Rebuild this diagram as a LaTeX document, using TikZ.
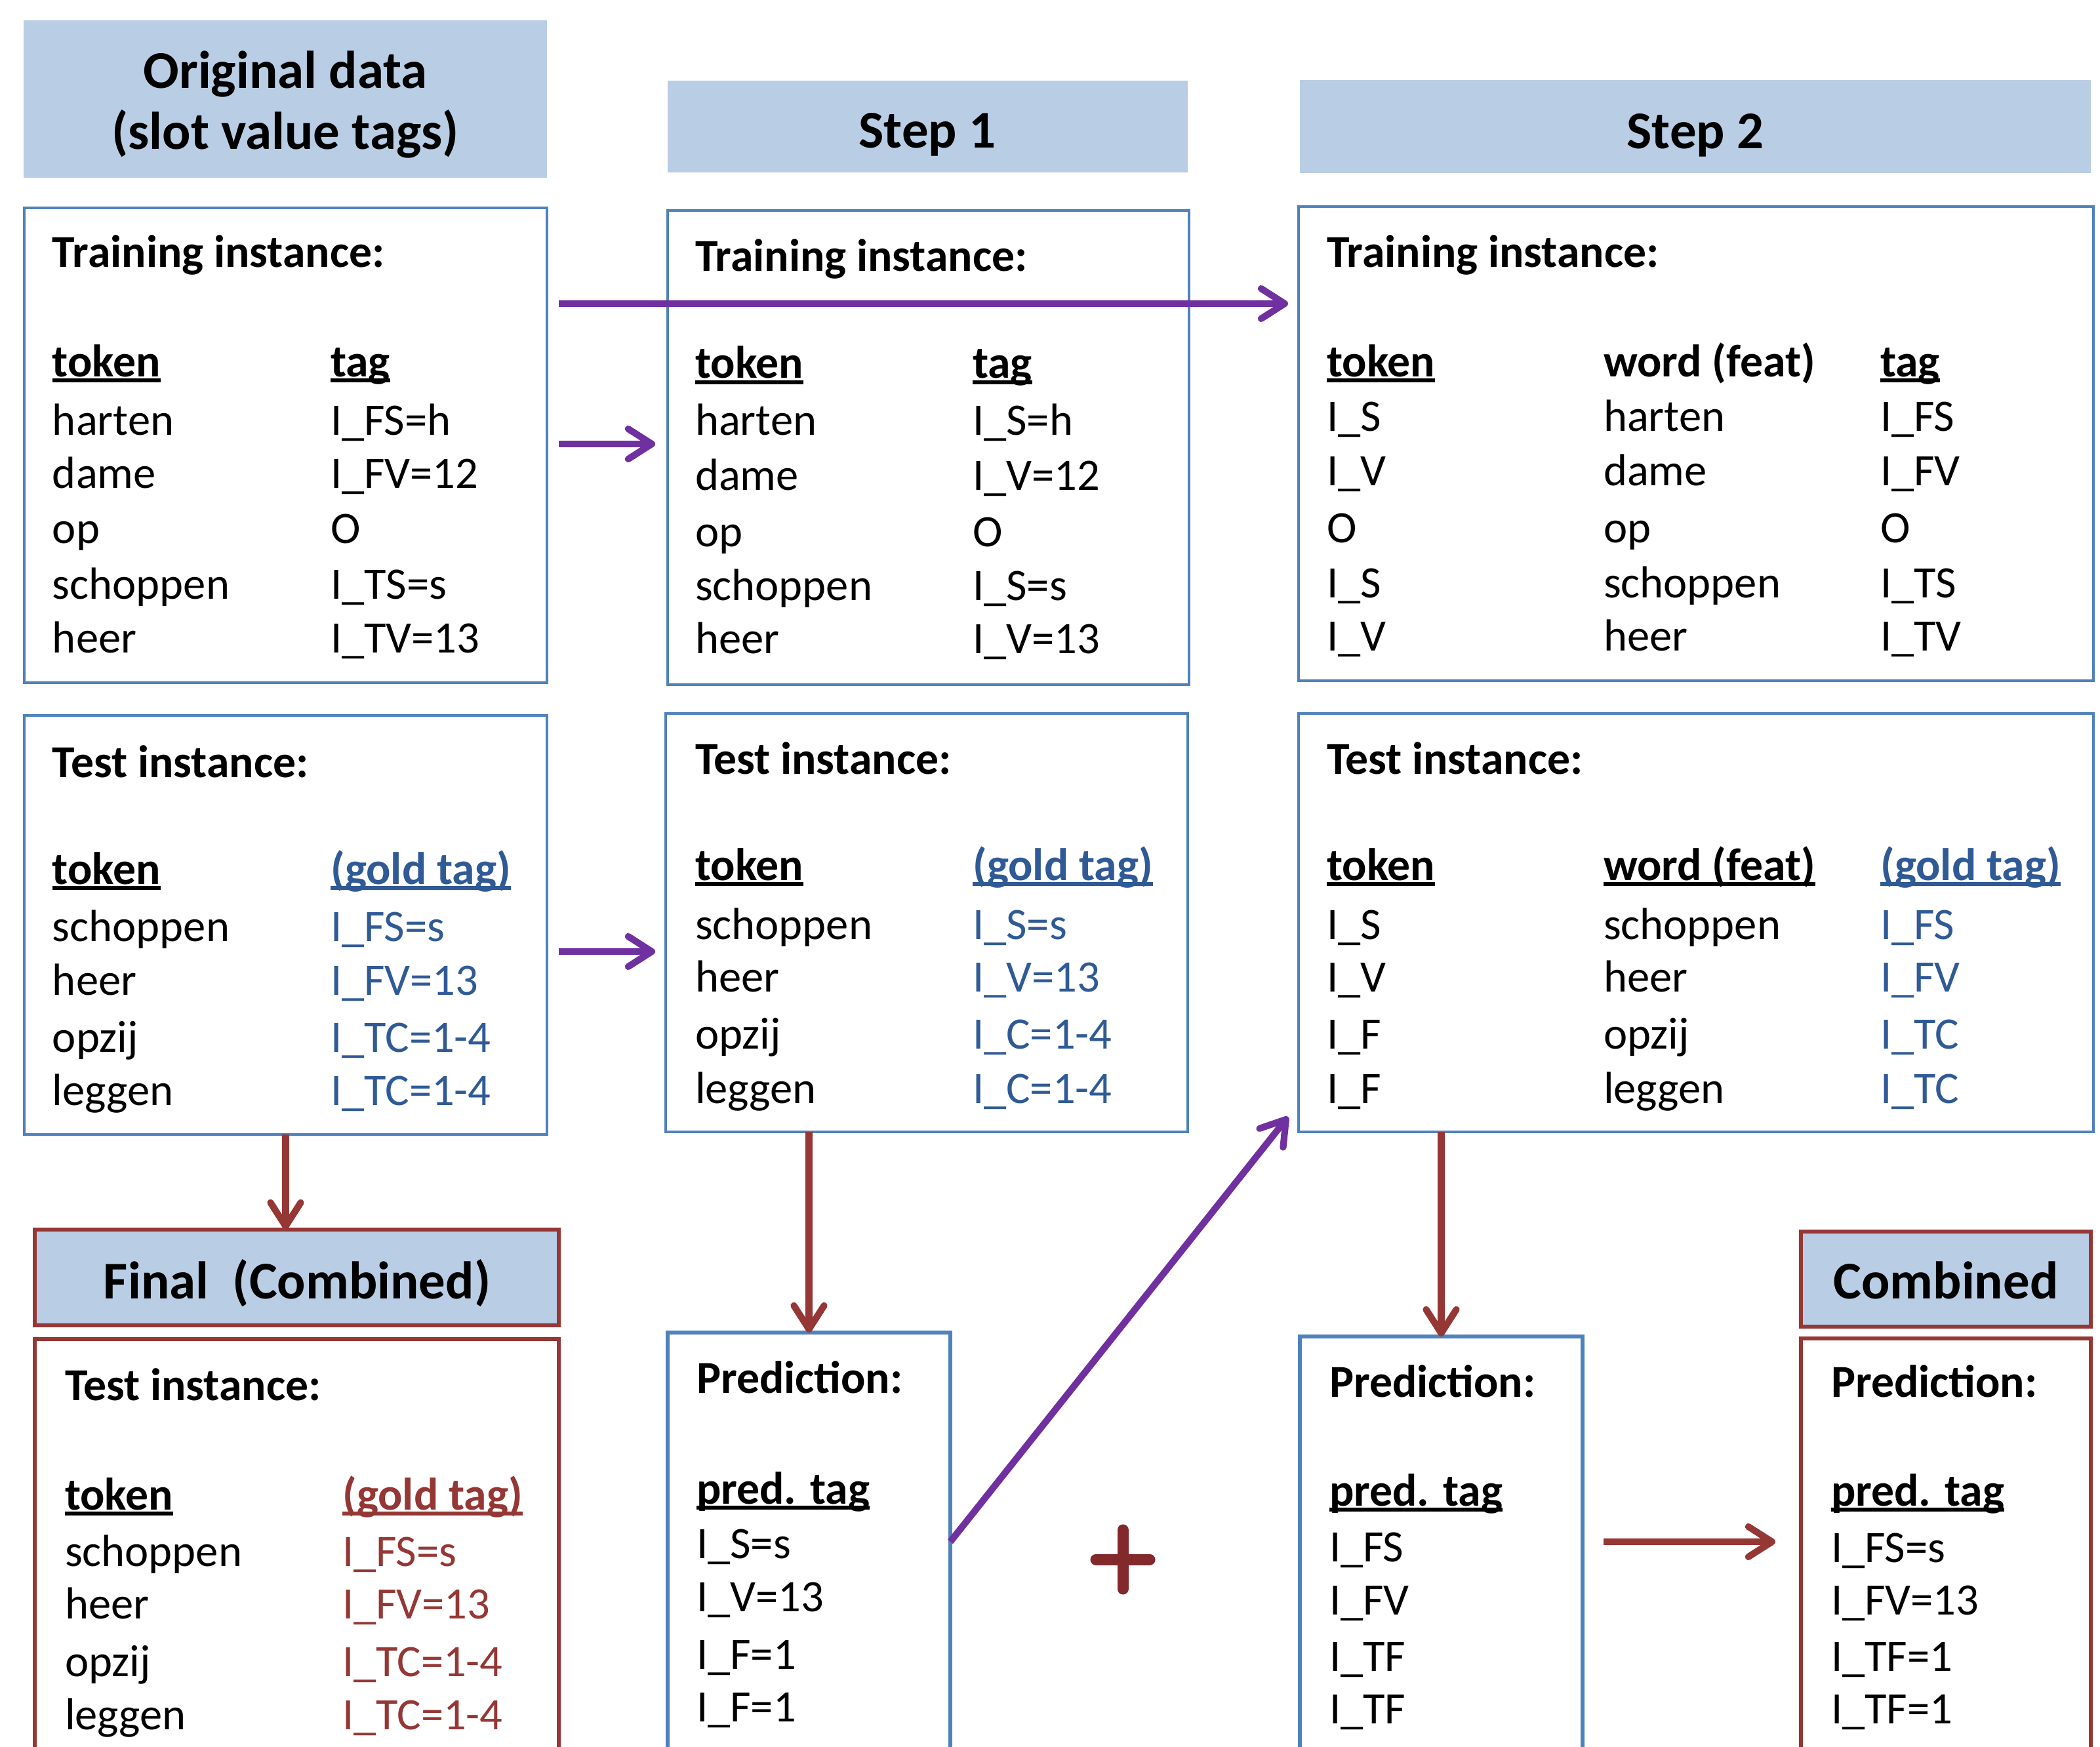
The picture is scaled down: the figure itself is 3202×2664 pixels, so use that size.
\documentclass[tikz,border=0pt]{standalone}
\usepackage{fontspec}
\setmainfont{Carlito}
\usetikzlibrary{arrows.meta,fit,calc}
\definecolor{hdrblue}{HTML}{B9CDE5}
\definecolor{boxblue}{HTML}{4F81BD}
\definecolor{purp}{HTML}{7030A0}
\definecolor{dred}{HTML}{953735}
\definecolor{goldblue}{HTML}{2F5A96}
\definecolor{plusred}{HTML}{83282B}
\newcommand\myul[1]{\setbox0=\hbox{#1}\rlap{\vrule height -0.04em depth 0.13em width \wd0}\box0}
% two-column row: prefix, y, x1, x2, text1, colour2, text2
\newcommand\rowtwo[7]{%
  \node[txt] (#1a) at (#3,#2) {#5};
  \node[txt,text=#6] (#1b) at (#4,#2) {#7};}
% three-column row (Step 2): prefix, y, text1, text2, colour3, text3
\newcommand\rowthree[6]{%
  \node[txt] (#1a) at (2023,#2) {#3};
  \node[txt] (#1b) at (2445,#2) {#4};
  \node[txt,text=#5] (#1c) at (2867,#2) {#6};}
\tikzset{
  txt/.style={anchor=base west, inner sep=0pt, outer sep=0pt, font=\fontsize{19.5pt}{23pt}\selectfont},
  btxt/.style={txt, font=\fontsize{19.8pt}{23pt}\selectfont\bfseries},
  htxt/.style={anchor=base, inner sep=0pt, outer sep=0pt, font=\fontsize{23pt}{28pt}\selectfont\bfseries},
  hdr/.style={fill=hdrblue, draw=none, inner sep=0pt, outer sep=0pt},
  thinbox/.style={draw=boxblue, line width=1.1pt, inner sep=0pt, outer sep=0pt},
  predbox/.style={draw=boxblue, line width=1.8pt, inner sep=0pt, outer sep=0pt},
  redhdr/.style={fill=hdrblue, draw=dred, line width=1.9pt, inner sep=0pt, outer sep=0pt},
  redbox/.style={draw=dred, line width=1.9pt, inner sep=0pt, outer sep=0pt},
  parrow/.style={draw=purp, line width=2.9pt, -{Straight Barb[length=0.36cm,width=0.46cm,round]}},
  rarrow/.style={draw=dred, line width=2.9pt, -{Straight Barb[length=0.36cm,width=0.46cm,round]}},
  plusline/.style={draw=plusred, line width=0.17cm, line cap=round},
}
\begin{document}
\begin{tikzpicture}[x=0.01cm,y=-0.01cm]
\useasboundingbox (0,0) rectangle (3202,2664);
\clip (0,0) rectangle (3202,2664);
\fill[white] (0,0) rectangle (3202,2664);

% ---------- boxes ----------
\node[hdr, fit={(36,31) (834,271)}] (hOrig) {};
\node[thinbox, fit={(37,317) (834,1041)}] (trainO) {};
\node[thinbox, fit={(37,1091) (834,1730)}] (testO) {};
\node[redhdr, fit={(53,1875) (852,2021)}] (hFinal) {};
\node[redbox, fit={(53,2042) (852,2740)}] (finalBox) {};

\node[hdr, fit={(1018,123) (1811,263)}] (hStep1) {};
\node[thinbox, fit={(1018,321) (1813,1044)}] (trainA) {};
\node[thinbox, fit={(1015,1088) (1811,1726)}] (testA) {};
\node[predbox, fit={(1018,2032) (1449,2740)}] (predA) {};

\node[hdr, fit={(1982,122) (3188,264)}] (hStep2) {};
\node[thinbox, fit={(1980,315) (3192,1038)}] (trainB) {};
\node[thinbox, fit={(1980,1088) (3192,1726)}] (testB) {};
\node[predbox, fit={(1982,2038) (2413,2740)}] (predB) {};
\node[redhdr, fit={(2746,1878) (3188,2023)}] (hComb) {};
\node[redbox, fit={(2746,2041) (3188,2740)}] (combBox) {};

% ---------- headers ----------
\node[htxt] (tOrig1) at (435,135) {Original data};
\node[htxt] (tOrig2) at (435,228) {(slot value tags)};
\node[htxt] (tStep1) at (1414,226) {Step 1};
\node[htxt] (tStep2) at (2585,227) {Step 2};
\node[htxt] (tFinal) at (453,1980) {Final\ \ (Combined)};
\node[htxt] (tComb) at (2967,1980) {Combined};

% ---------- original: training ----------
\node[btxt] (oTi) at (80,408) {Training instance:};
\node[btxt] (oTk) at (80,574) {\myul{token}};
\node[btxt] (oTg) at (504,574) {\myul{tag}};
\rowtwo{oa}{663}{80}{504}{harten}{black}{I\_FS=h}
\rowtwo{ob}{744}{80}{504}{dame}{black}{I\_FV=12}
\rowtwo{oc}{828}{80}{504}{op}{black}{O}
\rowtwo{od}{913}{80}{504}{schoppen}{black}{I\_TS=s}
\rowtwo{oe}{995}{80}{504}{heer}{black}{I\_TV=13}

% ---------- original: test ----------
\node[btxt] (oTe) at (80,1185) {Test instance:};
\node[btxt] (oTk2) at (80,1348) {\myul{token}};
\node[btxt,text=goldblue] (oGt) at (504,1348) {\myul{(gold tag)}};
\rowtwo{of}{1435}{80}{504}{schoppen}{goldblue}{I\_FS=s}
\rowtwo{og}{1517}{80}{504}{heer}{goldblue}{I\_FV=13}
\rowtwo{oh}{1604}{80}{504}{opzij}{goldblue}{I\_TC=1-4}
\rowtwo{oi}{1685}{80}{504}{leggen}{goldblue}{I\_TC=1-4}

% ---------- final ----------
\node[btxt] (fTe) at (99,2135) {Test instance:};
\node[btxt] (fTk) at (99,2302) {\myul{token}};
\node[btxt,text=dred] (fGt) at (522,2302) {\myul{(gold tag)}};
\rowtwo{fa}{2388}{99}{522}{schoppen}{dred}{I\_FS=s}
\rowtwo{fb}{2468}{99}{522}{heer}{dred}{I\_FV=13}
\rowtwo{fc}{2556}{99}{522}{opzij}{dred}{I\_TC=1-4}
\rowtwo{fd}{2637}{99}{522}{leggen}{dred}{I\_TC=1-4}

% ---------- step 1: training ----------
\node[btxt] (aTi) at (1060,414) {Training instance:};
\node[btxt] (aTk) at (1060,577) {\myul{token}};
\node[btxt] (aTg) at (1483,577) {\myul{tag}};
\rowtwo{aa}{663}{1060}{1483}{harten}{black}{I\_S=h}
\rowtwo{ab}{747}{1060}{1483}{dame}{black}{I\_V=12}
\rowtwo{ac}{833}{1060}{1483}{op}{black}{O}
\rowtwo{ad}{915}{1060}{1483}{schoppen}{black}{I\_S=s}
\rowtwo{ae}{996}{1060}{1483}{heer}{black}{I\_V=13}

% ---------- step 1: test ----------
\node[btxt] (aTe) at (1060,1180) {Test instance:};
\node[btxt] (aTk2) at (1060,1342) {\myul{token}};
\node[btxt,text=goldblue] (aGt) at (1483,1342) {\myul{(gold tag)}};
\rowtwo{af}{1432}{1060}{1483}{schoppen}{goldblue}{I\_S=s}
\rowtwo{ag}{1512}{1060}{1483}{heer}{goldblue}{I\_V=13}
\rowtwo{ah}{1599}{1060}{1483}{opzij}{goldblue}{I\_C=1-4}
\rowtwo{ai}{1682}{1060}{1483}{leggen}{goldblue}{I\_C=1-4}

% ---------- step 1: prediction ----------
\node[btxt] (pAh) at (1062,2124) {Prediction:};
\node[btxt] (pAt) at (1062,2293) {\myul{pred. tag}};
\node[txt] (pA1) at (1062,2376) {I\_S=s};
\node[txt] (pA2) at (1062,2457) {I\_V=13};
\node[txt] (pA3) at (1062,2545) {I\_F=1};
\node[txt] (pA4) at (1062,2625) {I\_F=1};

% ---------- step 2: training ----------
\node[btxt] (bTi) at (2023,408) {Training instance:};
\node[btxt] (bTk) at (2023,574) {\myul{token}};
\node[btxt] (bWf) at (2445,574) {word (feat)};
\node[btxt] (bTg) at (2867,574) {\myul{tag}};
\rowthree{ba}{658}{I\_S}{harten}{black}{I\_FS}
\rowthree{bb}{740}{I\_V}{dame}{black}{I\_FV}
\rowthree{bc}{827}{O}{op}{black}{O}
\rowthree{bd}{911}{I\_S}{schoppen}{black}{I\_TS}
\rowthree{be}{992}{I\_V}{heer}{black}{I\_TV}

% ---------- step 2: test ----------
\node[btxt] (bTe) at (2023,1180) {Test instance:};
\node[btxt] (bTk2) at (2023,1342) {\myul{token}};
\node[btxt] (bWf2) at (2445,1342) {\myul{word (feat)}};
\node[btxt,text=goldblue] (bGt) at (2867,1342) {\myul{(gold tag)}};
\rowthree{bf}{1432}{I\_S}{schoppen}{goldblue}{I\_FS}
\rowthree{bg}{1512}{I\_V}{heer}{goldblue}{I\_FV}
\rowthree{bh}{1599}{I\_F}{opzij}{goldblue}{I\_TC}
\rowthree{bi}{1682}{I\_F}{leggen}{goldblue}{I\_TC}

% ---------- step 2: prediction ----------
\node[btxt] (pBh) at (2027,2130) {Prediction:};
\node[btxt] (pBt) at (2027,2296) {\myul{pred. tag}};
\node[txt] (pB1) at (2027,2381) {I\_FS};
\node[txt] (pB2) at (2027,2462) {I\_FV};
\node[txt] (pB3) at (2027,2548) {I\_TF};
\node[txt] (pB4) at (2027,2628) {I\_TF};

% ---------- combined ----------
\node[btxt] (cPh) at (2792,2130) {Prediction:};
\node[btxt] (cPt) at (2792,2296) {\myul{pred. tag}};
\node[txt] (c1) at (2792,2382) {I\_FS=s};
\node[txt] (c2) at (2792,2462) {I\_FV=13};
\node[txt] (c3) at (2792,2548) {I\_TF=1};
\node[txt] (c4) at (2792,2628) {I\_TF=1};

% ---------- connectors ----------
\coordinate (rowL) at (0,463);
\coordinate (rowM) at (0,677);
\coordinate (rowT) at (0,1451);
\coordinate (rowP) at (0,2351);
\coordinate (diagEnd) at ($(testB.south west)+(-16,-23)$);

\draw[parrow, shorten <=0.18cm, shorten >=0.16cm] (trainO.east |- rowL) -- (trainB.west |- rowL);
\draw[parrow, shorten <=0.18cm, shorten >=0.19cm] (trainO.east |- rowM) -- (trainA.west |- rowM);
\draw[parrow, shorten <=0.18cm, shorten >=0.16cm] (testO.east |- rowT) -- (testA.west |- rowT);
\draw[parrow] (predA.east |- rowP) -- (diagEnd);

\draw[rarrow] (testO.south) -- (testO.south |- hFinal.north);
\draw[rarrow] (predA.north |- testA.south) -- (predA.north);
\draw[rarrow] (predB.north |- testB.south) -- (predB.north);
\draw[rarrow, shorten <=0.32cm, shorten >=0.39cm] (predB.east |- rowP) -- (combBox.west |- rowP);

% ---------- plus sign ----------
\coordinate (plusC) at (1712,2378);
\draw[plusline] ($(plusC)+(-41,0)$) -- ($(plusC)+(41,0)$);
\draw[plusline] ($(plusC)+(0,-45)$) -- ($(plusC)+(0,45)$);
\end{tikzpicture}
\end{document}
